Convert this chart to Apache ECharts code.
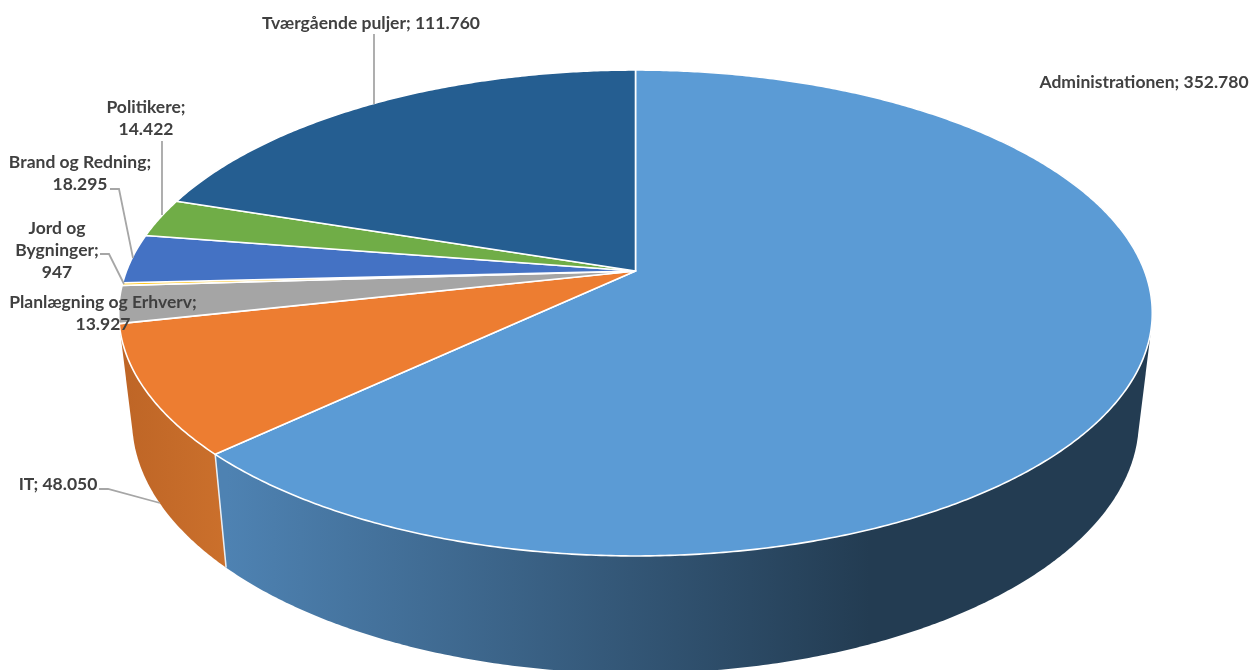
<!DOCTYPE html>
<html>
<head>
<meta charset="utf-8">
<style>html,body{margin:0;padding:0;background:#fff}#c{width:1251px;height:670px}</style>
<script src="https://cdn.jsdelivr.net/npm/echarts@6/dist/echarts.min.js"></script>
</head>
<body>
<div id="c"></div>
<script>
var categories = ['Administrationen','IT','Planlægning og Erhverv','Jord og Bygninger','Brand og Redning','Politikere','Tværgående puljer'];
var values = [352780,48050,13927,947,18295,14422,111760];

var topColors = ['#5B9BD5','#ED7D31','#A5A5A5','#FFC000','#4472C4','#70AD47','#255E91'];
var wallStops = [
  [{offset:0,color:'#4E82B2'},{offset:1,color:'#233C52'}],
  [{offset:0,color:'#BE6526'},{offset:1,color:'#CB702C'}]
];
// label layout: wrap style, anchor x, first line centre y, leader polyline
var labelLayout = [
  {lines:[0],x:1144,y:82.5,line:null},
  {lines:[0],x:58,y:484.5,line:[[99,489],[108,489],[160,503]]},
  {lines:[1],x:103,y:302.5,line:null},
  {lines:[2],x:57,y:228.5,line:[[100,254],[109,254],[124,284]]},
  {lines:[1],x:80,y:162.5,line:[[110,189],[119,189],[133,258]]},
  {lines:[1],x:146,y:107.5,line:[[162,141],[162,215]]},
  {lines:[0],x:371,y:23.5,line:[[374,34],[374,104]]}
];
var wrapped = {'Jord og Bygninger':['Jord og','Bygninger;']};

var total = values.reduce(function(a,b){return a+b;},0);
var CX=635.5, CY=271, A=509, B=235.7, K=0.1728, S=0.974, SY=1.04, Y0=377;

function topPt(ang){
  var u=Math.sin(ang), v=-Math.cos(ang), d=1-K*v;
  return [CX+A*u/d, CY+B*v/d];
}
function botPt(ang){
  var p=topPt(ang);
  return [CX+S*(p[0]-CX), Y0+SY*(p[1]-CY)];
}
function fmt(n){return String(n).replace(/\B(?=(\d{3})+$)/g,'.');}
function hull(pts){
  var p=pts.slice().sort(function(a,b){return a[0]-b[0]||a[1]-b[1];});
  function cross(o,a,b){return (a[0]-o[0])*(b[1]-o[1])-(a[1]-o[1])*(b[0]-o[0]);}
  var lo=[],up=[];
  p.forEach(function(q){
    while(lo.length>1&&cross(lo[lo.length-2],lo[lo.length-1],q)<=0) lo.pop();
    lo.push(q);
  });
  p.reverse().forEach(function(q){
    while(up.length>1&&cross(up[up.length-2],up[up.length-1],q)<=0) up.pop();
    up.push(q);
  });
  lo.pop();up.pop();
  return lo.concat(up);
}

function renderItem(params, api){
  var i=params.dataIndex, val=api.value(0), before=0;
  for(var j=0;j<i;j++) before+=values[j];
  var a0=before/total*2*Math.PI, a1=(before+val)/total*2*Math.PI;
  var n=Math.max(2,Math.ceil((a1-a0)/0.008));
  var rimT=[], rimB=[];
  for(var t=0;t<=n;t++){
    var a=a0+(a1-a0)*t/n;
    rimT.push(topPt(a)); rimB.push(botPt(a));
  }
  var children=[];
  // side wall: only the two front slices show one; the hull gives the straight tangent edges
  if(wallStops[i]){
    var gx0 = i===0 ? 227 : 120, gx1 = i===0 ? 870 : 227;
    children.push({type:'polygon',z2:1,silent:true,
      shape:{points:hull(rimT.concat(rimB))},
      style:{fill:{type:'linear',x:gx0,y:0,x2:gx1,y2:0,global:true,colorStops:wallStops[i]},stroke:null}});
  }
  if(i===0){
    children.push({type:'line',z2:2,silent:true,
      shape:{x1:rimT[n][0],y1:rimT[n][1],x2:rimB[n][0],y2:rimB[n][1]},
      style:{stroke:'#E8EEF4',lineWidth:1.5}});
  }
  // top face
  children.push({type:'polygon',z2:5,silent:true,
    shape:{points:[[CX,CY]].concat(rimT)},
    style:{fill:topColors[i],stroke:'#fff',lineWidth:1.6,lineJoin:'round'}});
  // leader
  var L=labelLayout[i];
  if(L.line){
    children.push({type:'polyline',z2:20,silent:true,shape:{points:L.line},
      style:{fill:null,stroke:'#A6A6A6',lineWidth:1.8}});
  }
  // label
  var name=categories[i], valStr=fmt(val), lines;
  if(wrapped[name]) lines=wrapped[name].concat([valStr]);
  else if(L.lines[0]===1) lines=[name+';',valStr];
  else lines=[name+'; '+valStr];
  lines.forEach(function(s,k){
    children.push({type:'text',z2:30,silent:true,
      style:{text:s,x:L.x,y:L.y+k*22,align:'center',verticalAlign:'middle',
        fill:'#404040',font:'bold 17.5px Lato, sans-serif'}});
  });
  return {type:'group',children:children};
}

var chart=echarts.init(document.getElementById('c'),null,{renderer:'canvas',width:1251,height:670});
chart.setOption({
  animation:false,
  backgroundColor:'#fff',
  series:[{
    type:'custom',
    coordinateSystem:'none',
    renderItem:renderItem,
    silent:true,
    data:categories.map(function(c,i){return {name:c,value:[values[i]]};})
  }]
});
</script>
</body>
</html>
